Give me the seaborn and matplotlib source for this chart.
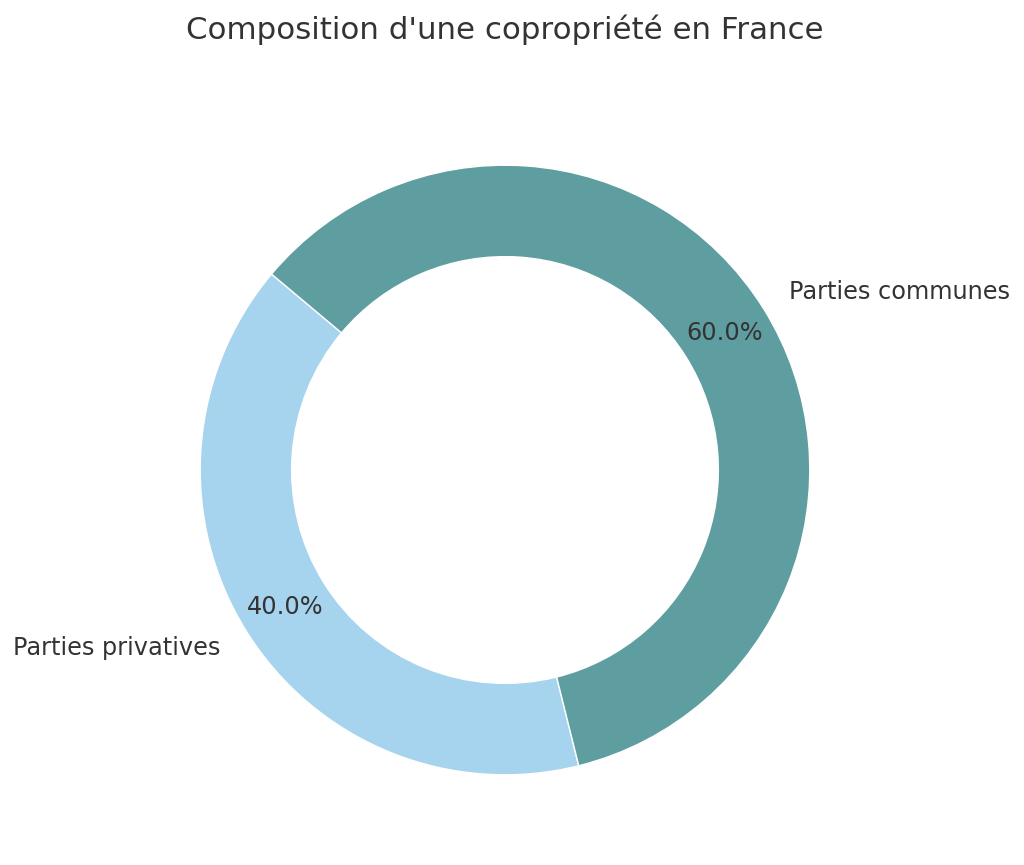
import matplotlib
matplotlib.use("Agg")
import matplotlib.pyplot as plt
import seaborn as sns

sns.set_style("white")

labels = ["Parties privatives", "Parties communes"]
shares = [40, 60]
colors = ["#A6D3EE", "#5F9EA0"]

fig = plt.figure(figsize=(10.24, 8.65), dpi=100)
ax = fig.add_axes([124 / 1024, 14 / 865, 762 / 1024, 762 / 865])

wedges, texts, autotexts = ax.pie(
    shares,
    labels=labels,
    colors=colors,
    autopct="%1.1f%%",
    startangle=140,
    pctdistance=0.85,
    labeldistance=1.1,
    wedgeprops=dict(width=0.3, edgecolor="white", linewidth=1),
    textprops=dict(fontsize=17.3, color="#333333"),
)
ax.set_aspect("equal")
ax.set_title("Composition d'une copropriété en France", fontsize=22.2,
             color="#333333", pad=36)

fig.savefig("out.png", dpi=100)
